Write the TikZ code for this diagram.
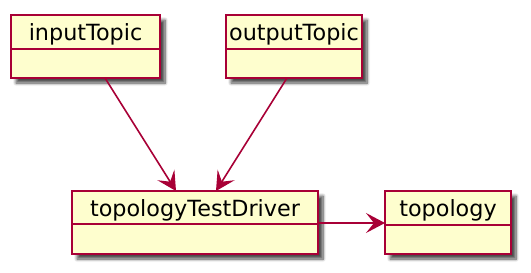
\documentclass[tikz,border=0pt]{standalone}
\usepackage{fontspec}
\setmainfont{DejaVu Sans}
\usetikzlibrary{arrows.meta,shadows.blur}
\definecolor{boxfill}{HTML}{FEFECE}
\definecolor{boxline}{HTML}{A80036}
\begin{document}
\begin{tikzpicture}[x=1pt,y=-1pt,
  objbox/.style={draw=boxline,fill=boxfill,line width=2.3pt,
    blur shadow={shadow xshift=5pt,shadow yshift=-5pt,shadow blur radius=3pt,shadow blur steps=8,shadow opacity=70}},
  sepline/.style={draw=boxline,line width=1.7pt},
  link/.style={draw=boxline,line width=1.6pt,-{Stealth[length=19pt,width=20pt,inset=8pt]}},
  lbl/.style={font=\fontsize{22.3}{26}\selectfont,inner sep=0pt,anchor=base}]
\useasboundingbox (0,0) rectangle (531,273);
% object boxes
\path[objbox] (11,15) rectangle (160,78);
\draw[sepline] (11,49) -- (160,49);
\node[lbl] (inputTopic) at (85.5,40) {inputTopic};
\coordinate (inB) at (105,78);

\path[objbox] (226,15) rectangle (362,78);
\draw[sepline] (226,49) -- (362,49);
\node[lbl] (outputTopic) at (294,40) {outputTopic};
\coordinate (outB) at (287,78);

\path[objbox] (72,191) rectangle (318,254);
\draw[sepline] (72,224) -- (318,224);
\node[lbl] (driver) at (195,216) {topologyTestDriver};
\coordinate (drvInL) at (176,191);
\coordinate (drvInR) at (216,191);
\coordinate (drvR) at (318,223);

\path[objbox] (385,191) rectangle (511,254);
\draw[sepline] (385,225) -- (511,225);
\node[lbl] (topology) at (448,216) {topology};
\coordinate (topL) at (385,223);

% connectors
\draw[link] (inB) -- (drvInL);
\draw[link] (outB) -- (drvInR);
\draw[link] (drvR) -- (topL);
\end{tikzpicture}
\end{document}
